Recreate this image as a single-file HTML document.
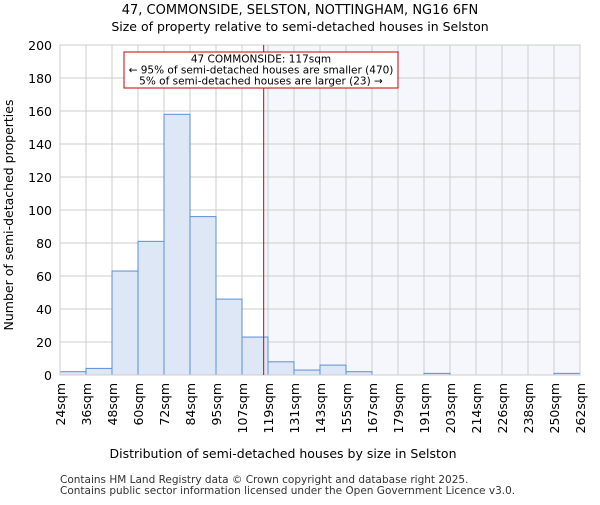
<!DOCTYPE html>
<html><head><meta charset="utf-8"><style>body{margin:0;background:#fff}svg{font-family:"DejaVu Sans","Liberation Sans",sans-serif}</style></head>
<body>
<svg id="c" width="600" height="500">
<text x="300" y="14" text-anchor="middle" font-size="13">47, COMMONSIDE, SELSTON, NOTTINGHAM, NG16 6FN</text>
<text x="300" y="31" text-anchor="middle" font-size="12.5">Size of property relative to semi-detached houses in Selston</text>
<g id="g"></g>
<text x="283" y="458" text-anchor="middle" font-size="12.5">Distribution of semi-detached houses by size in Selston</text>
<text transform="translate(13,215) rotate(-90)" text-anchor="middle" font-size="12.5">Number of semi-detached properties</text>
<text x="60" y="483" font-size="10.5" fill="#333">Contains HM Land Registry data © Crown copyright and database right 2025.</text>
<text x="60" y="494" font-size="10.5" fill="#333">Contains public sector information licensed under the Open Government Licence v3.0.</text>
</svg>
<script>
const binLabels=["24sqm","36sqm","48sqm","60sqm","72sqm","84sqm","95sqm","107sqm","119sqm","131sqm","143sqm","155sqm","167sqm","179sqm","191sqm","203sqm","214sqm","226sqm","238sqm","250sqm","262sqm"];
const counts=[2,4,63,81,158,96,46,23,8,3,6,2,0,0,1,0,0,0,0,1];
const yTicks=[0,20,40,60,80,100,120,140,160,180,200];
const subjectBinPos=[7,10/12];
const NS="http://www.w3.org/2000/svg",g=document.getElementById("g");
const L=60,R=580,T=45,B=375,bw=(R-L)/counts.length;
const x=i=>L+i*bw, y=v=>B-(v/200)*(B-T);
function mk(t,a){const e=document.createElementNS(NS,t);for(const k in a)e.setAttribute(k,a[k]);g.appendChild(e);return e;}
const px=x(subjectBinPos[0]+subjectBinPos[1]);
let s=mk("rect",{x:px,y:T,width:R-px,height:B-T,fill:"#f5f7fd"});


yTicks.forEach(v=>{let l=mk("line",{x1:L,x2:R,y1:y(v),y2:y(v),stroke:"#ccc"});


let t=mk("text",{x:L-8,y:y(v)+5,"text-anchor":"end","font-size":"12.5"});t.textContent=v;

});
binLabels.forEach((lb,i)=>{let l=mk("line",{x1:x(i),x2:x(i),y1:T,y2:B,stroke:"#ccc"});


let t=mk("text",{transform:`translate(${x(i)+5},${B+8}) rotate(-90)`,"text-anchor":"end","font-size":"12.5"});t.textContent=lb;

});
counts.forEach((v,i)=>{let r=mk("rect",{x:x(i),y:y(v),width:bw,height:B-y(v),fill:"#dde7f5",stroke:"#5b8fd6","stroke-width":1});

});
let ax=mk("rect",{x:L,y:T,width:R-L,height:B-T,fill:"none",stroke:"#ccc"});


let rl=mk("line",{x1:px,x2:px,y1:T,y2:B,stroke:"#dd0000","stroke-width":1});


let bx=mk("rect",{x:124,y:52,width:274,height:36,fill:"#fff",stroke:"#cc0000"});


["47 COMMONSIDE: 117sqm","← 95% of semi-detached houses are smaller (470)","5% of semi-detached houses are larger (23) →"].forEach((s,i)=>{let t=mk("text",{x:261,y:62.5+i*11,"text-anchor":"middle","font-size":"10.5"});t.textContent=s;

});
</script>
</body></html>
